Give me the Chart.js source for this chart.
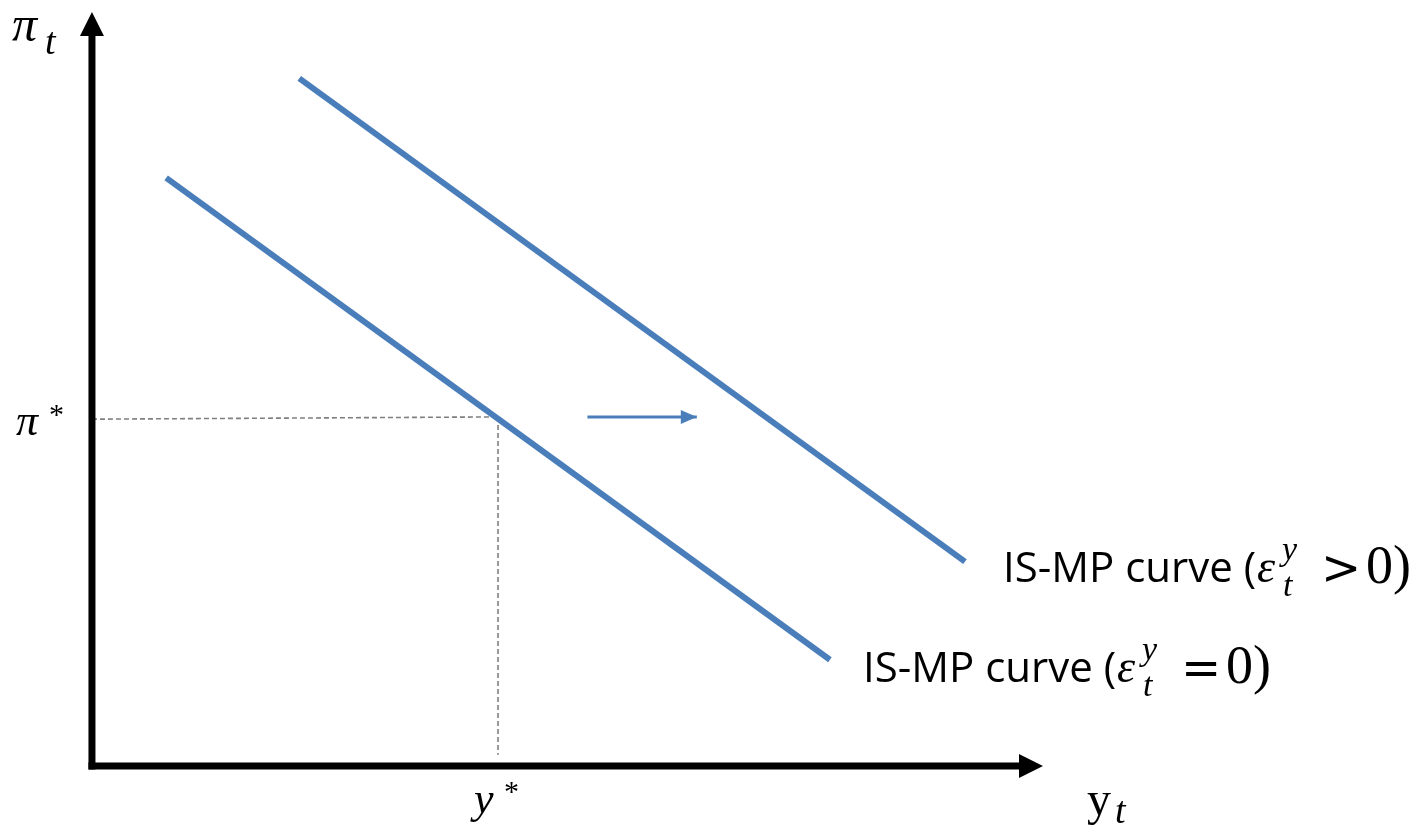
<!DOCTYPE html>
<html>
<head>
<meta charset="utf-8">
<script src="https://cdn.jsdelivr.net/npm/chart.js@4.4.1/dist/chart.umd.min.js"></script>
<style>
  html, body { margin: 0; padding: 0; background: #fff; }
  #wrap { width: 1417px; height: 825px; }
</style>
</head>
<body>
<div id="wrap"><canvas id="isMpChart" width="1417" height="825"></canvas></div>
<script>
// IS-MP curve before and after a positive demand shock (output on x, inflation on y)
const baseCurveX = [0.78, 7.76];
const baseCurveY = [7.80, 1.41];
const shiftedCurveX = [2.18, 9.18];
const shiftedCurveY = [9.12, 2.71];
const yStar = 4.27;
const piStar = 4.63;
const piGuideY = [4.60, 4.63];   // slightly slanted guide, as in the picture
const shiftArrowX = [5.21, 6.36];
const shiftArrowY = [4.63, 4.63];
const axisMax = { x: 10, y: 10 };

const blue = '#4A7EBB';
const grey = '#7F7F7F';

const pts = (xs, ys) => xs.map((x, i) => ({ x: x, y: ys[i] }));

const arrowHead = (c, x1, y1, x2, y2, len, half, color) => {
    const a = Math.atan2(y2 - y1, x2 - x1);
    c.save();
    c.fillStyle = color;
    c.beginPath();
    c.moveTo(x2, y2);
    c.lineTo(x2 - len * Math.cos(a) + half * Math.sin(a), y2 - len * Math.sin(a) - half * Math.cos(a));
    c.lineTo(x2 - len * Math.cos(a) - half * Math.sin(a), y2 - len * Math.sin(a) + half * Math.cos(a));
    c.closePath();
    c.fill();
    c.restore();
};

const sketchPlugin = {
    id: 'sketch',
    afterDatasetsDraw(chart) {
        const c = chart.ctx;
        const xs = chart.scales.x, ys = chart.scales.y;
        const X = v => xs.getPixelForValue(v);
        const Y = v => ys.getPixelForValue(v);

        // axes with arrowheads
        c.save();
        c.strokeStyle = '#000';
        c.lineWidth = 7;
        c.beginPath();
        c.moveTo(X(0), Y(0) + 3.5);
        c.lineTo(X(0), Y(axisMax.y) + 20);
        c.stroke();
        c.beginPath();
        c.moveTo(X(0) - 3.5, Y(0));
        c.lineTo(X(axisMax.x) - 20, Y(0));
        c.stroke();
        c.restore();
        arrowHead(c, X(0), Y(0), X(0), Y(axisMax.y), 24, 12, '#000');
        arrowHead(c, X(0), Y(0), X(axisMax.x), Y(0), 24, 12, '#000');

        // shift arrow head
        const n = shiftArrowX.length - 1;
        arrowHead(c, X(shiftArrowX[0]), Y(shiftArrowY[0]), X(shiftArrowX[n]), Y(shiftArrowY[n]), 16, 7, blue);

        // labels
        c.save();
        c.fillStyle = '#000';
        c.textBaseline = 'alphabetic';
        c.textAlign = 'left';
        const serifIt = s => 'italic ' + s + 'px "Liberation Serif", "DejaVu Serif", serif';
        const serif = s => s + 'px "Liberation Serif", "DejaVu Serif", serif';

        c.font = serifIt(50); c.fillText('π', 12, 41);
        c.font = serifIt(38); c.fillText('t', 45, 54);

        c.font = serifIt(44); c.fillText('π', 16, 435);
        c.font = serif(30); c.fillText('*', 49, 424);

        c.font = serifIt(44); c.fillText('y', 474, 813);
        c.font = serif(30); c.fillText('*', 504, 801);

        c.font = serif(48); c.fillText('y', 1087, 815);
        c.font = serifIt(38); c.fillText('t', 1115, 823);

        const curveLabel = (x, base, rel) => {
            c.font = '42px "Open Sans", "Liberation Sans", sans-serif';
            c.fillText('IS-MP curve (', x, base);
            c.font = serifIt(46); c.fillText('ε', x + 254, base);
            c.font = serifIt(34);
            c.fillText('y', x + 279, base - 22);
            c.fillText('t', x + 280, base + 14);
            c.font = '48px "DejaVu Sans", sans-serif';
            c.fillText(rel, x + 318, base + 2);
            c.font = serif(54);
            c.fillText('0)', x + 363, base + 1);
        };
        curveLabel(1003, 582, '>');
        curveLabel(863, 682, '=');
        c.restore();
    }
};

new Chart(document.getElementById('isMpChart'), {
    type: 'scatter',
    data: {
        datasets: [
            { data: pts(baseCurveX, baseCurveY), showLine: true, borderColor: blue, borderWidth: 6, pointRadius: 0, borderCapStyle: 'butt' },
            { data: pts(shiftedCurveX, shiftedCurveY), showLine: true, borderColor: blue, borderWidth: 6, pointRadius: 0, borderCapStyle: 'butt' },
            { data: pts(shiftArrowX, shiftArrowY), showLine: true, borderColor: blue, borderWidth: 3, pointRadius: 0 },
            { data: pts([0, yStar], piGuideY), showLine: true, borderColor: grey, borderWidth: 1.6, borderDash: [5, 3], pointRadius: 0 },
            { data: pts([yStar, yStar], [piStar, 0.15]), showLine: true, borderColor: grey, borderWidth: 1.6, borderDash: [5, 3], pointRadius: 0 }
        ]
    },
    options: {
        responsive: false,
        animation: false,
        layout: { padding: 0 },
        plugins: { legend: { display: false }, tooltip: { enabled: false } },
        scales: {
            x: { type: 'linear', display: false, min: -0.967, max: 13.933 },
            y: { type: 'linear', display: false, min: -0.782, max: 10.159 }
        }
    },
    plugins: [sketchPlugin]
});
</script>
</body>
</html>
